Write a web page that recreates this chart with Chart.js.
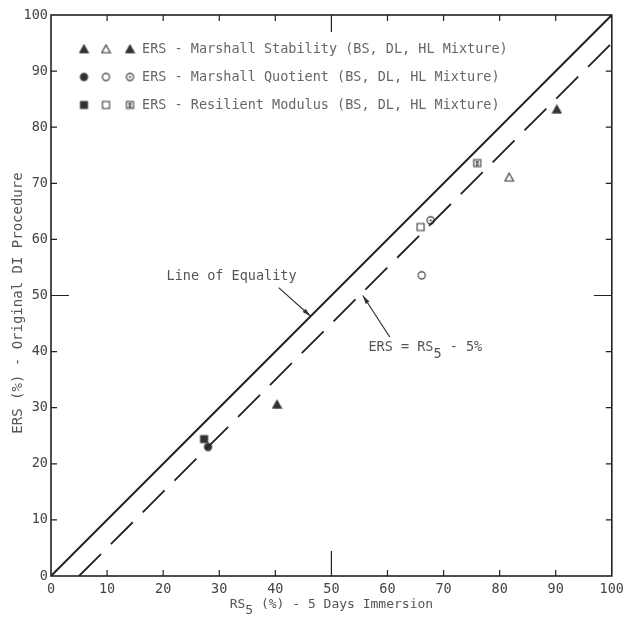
<!DOCTYPE html>
<html>
<head>
<meta charset="utf-8">
<script src="https://cdn.jsdelivr.net/npm/chart.js@4.4.0/dist/chart.umd.min.js"></script>
<style>
  html, body { margin: 0; background: #fff; }
  #wrap { width: 629px; height: 624px; }
</style>
</head>
<body>
<div id="wrap"><canvas id="myChart"></canvas></div>
<script>
// axis ticks
const tickValues = [0, 10, 20, 30, 40, 50, 60, 70, 80, 90, 100];

// reference lines
const equalityLine = [{x: 0, y: 0}, {x: 100, y: 100}];
const offsetLine = [{x: 5, y: 0}, {x: 100, y: 95}];

// ERS vs RS5 : BS mixture (filled), DL (open), HL (marked)
const msBS = [{x: 40.3, y: 30.6}];
const mqBS = [{x: 28.0, y: 23.0}];
const rmBS = [{x: 27.3, y: 24.4}];
const msDL = [{x: 81.7, y: 71.1}];
const mqDL = [{x: 66.1, y: 53.6}];
const rmDL = [{x: 65.9, y: 62.2}];
const msHL = [{x: 90.2, y: 83.2}];
const mqHL = [{x: 67.7, y: 63.4}];
const rmHL = [{x: 76.0, y: 73.6}];

const legendLabels = [
  'ERS - Marshall Stability (BS, DL, HL Mixture)',
  'ERS - Marshall Quotient (BS, DL, HL Mixture)',
  'ERS - Resilient Modulus (BS, DL, HL Mixture)'
];

const FONT = '"DejaVu Sans Mono", monospace';
const TXT = '#555';
const INK = '#222';

// little marker images, used for points and legend
function marker(shape, fill, inner) {
  const c = document.createElement('canvas');
  c.width = 11; c.height = 11;
  const g = c.getContext('2d');
  g.strokeStyle = '#333';
  g.fillStyle = fill ? '#333' : '#fff';
  g.lineWidth = 1.1;
  g.beginPath();
  if (shape === 'tri') { g.moveTo(5.5, 1.5); g.lineTo(9.8, 9.3); g.lineTo(1.2, 9.3); g.closePath(); }
  else if (shape === 'circle') g.arc(5.5, 5.5, 3.6, 0, Math.PI * 2);
  else g.rect(2, 2, 7, 7);
  g.fill(); g.stroke();
  if (inner === 'dot') { g.fillStyle = '#333'; g.beginPath(); g.arc(5.5, 5.5, 1.1, 0, Math.PI * 2); g.fill(); }
  if (inner === 'bar') { g.fillStyle = '#333'; g.fillRect(4, 3.5, 3, 2); g.fillRect(4, 6.5, 3, 1.5); }
  return c;
}

const mk = [
  [marker('tri', true), marker('tri', false), marker('tri', true)],
  [marker('circle', true), marker('circle', false), marker('circle', false, 'dot')],
  [marker('rect', true), marker('rect', false), marker('rect', false, 'bar')]
];

function pts(data, img) {
  return { type: 'scatter', data: data, pointStyle: img, pointRadius: 5, pointHoverRadius: 5 };
}

const annoPlugin = {
  id: 'anno',
  afterDraw(chart) {
    const ctx = chart.ctx;
    const xs = chart.scales.x, ys = chart.scales.y;
    const a = chart.chartArea;
    const X = v => xs.getPixelForValue(v), Y = v => ys.getPixelForValue(v);
    ctx.save();
    // frame
    ctx.strokeStyle = INK;
    ctx.lineWidth = 1.6;
    ctx.strokeRect(a.left, a.top, a.right - a.left, a.bottom - a.top);
    // inward ticks
    ctx.lineWidth = 1.2;
    ctx.beginPath();
    for (let i = 1; i < tickValues.length - 1; i++) {
      const v = tickValues[i];
      const big = v === 50;
      const px = X(v), py = Y(v);
      ctx.moveTo(px, a.bottom); ctx.lineTo(px, a.bottom - (big ? 25 : 6));
      ctx.moveTo(px, a.top); ctx.lineTo(px, a.top + (big ? 17 : 6));
      ctx.moveTo(a.left, py); ctx.lineTo(a.left + (big ? 18 : 6), py);
      ctx.moveTo(a.right, py); ctx.lineTo(a.right - (big ? 18 : 6), py);
    }
    ctx.stroke();

    // legend
    ctx.font = '13.5px ' + FONT;
    ctx.fillStyle = '#666';
    ctx.textBaseline = 'middle';
    const colX = [84, 106, 130];
    for (let r = 0; r < 3; r++) {
      const y = 49 + r * 28;
      for (let c = 0; c < 3; c++) ctx.drawImage(mk[r][c], colX[c] - 5.5, y - 5.5);
      ctx.fillText(legendLabels[r], 142, y);
    }

    // arrows
    function arrow(x0, y0, x1, y1) {
      const p0 = [X(x0), Y(y0)], p1 = [X(x1), Y(y1)];
      ctx.strokeStyle = '#333';
      ctx.lineWidth = 1.2;
      ctx.beginPath(); ctx.moveTo(p0[0], p0[1]); ctx.lineTo(p1[0], p1[1]); ctx.stroke();
      const ang = Math.atan2(p1[1] - p0[1], p1[0] - p0[0]);
      ctx.fillStyle = '#333';
      ctx.beginPath();
      ctx.moveTo(p1[0], p1[1]);
      ctx.lineTo(p1[0] - 9 * Math.cos(ang - 0.25), p1[1] - 9 * Math.sin(ang - 0.25));
      ctx.lineTo(p1[0] - 9 * Math.cos(ang + 0.25), p1[1] - 9 * Math.sin(ang + 0.25));
      ctx.closePath(); ctx.fill();
    }
    arrow(40.6, 51.4, 46.3, 46.3);
    arrow(60.4, 42.6, 55.6, 50.0);

    ctx.fillStyle = TXT;
    ctx.font = '13.5px ' + FONT;
    ctx.textAlign = 'center';
    ctx.fillText('Line of Equality', X(32.2), Y(53.3));
    ctx.textAlign = 'left';
    let tx = X(56.6), ty = Y(40.8);
    ctx.fillText('ERS = RS', tx, ty);
    tx += ctx.measureText('ERS = RS').width;
    ctx.fillText('5', tx, ty + 7);
    tx += ctx.measureText('5').width;
    ctx.fillText(' - 5%', tx, ty);

    // axis titles
    ctx.font = '13px ' + FONT;
    const xt1 = 'RS', xt2 = '5', xt3 = ' (%) - 5 Days Immersion';
    const w = ctx.measureText(xt1 + xt2 + xt3).width;
    let bx = (a.left + a.right) / 2 - w / 2;
    const by = 605;
    ctx.fillText(xt1, bx, by); bx += ctx.measureText(xt1).width;
    ctx.fillText(xt2, bx, by + 6); bx += ctx.measureText(xt2).width;
    ctx.fillText(xt3, bx, by);

    ctx.font = '14px ' + FONT;
    ctx.translate(18, 303);
    ctx.rotate(-Math.PI / 2);
    ctx.textAlign = 'center';
    ctx.fillText('ERS (%) - Original DI Procedure', 0, 0);
    ctx.restore();
  }
};

const ctx = document.getElementById('myChart').getContext('2d');
const myChart = new Chart(ctx, {
  type: 'scatter',
  data: {
    datasets: [
      { type: 'line', data: equalityLine, borderColor: INK, borderWidth: 2, pointRadius: 0, fill: false },
      { type: 'line', data: offsetLine, borderColor: INK, borderWidth: 1.8, borderDash: [31, 14], pointRadius: 0, fill: false },
      pts(msBS, mk[0][0]), pts(msDL, mk[0][1]), pts(msHL, mk[0][2]),
      pts(mqBS, mk[1][0]), pts(mqDL, mk[1][1]), pts(mqHL, mk[1][2]),
      pts(rmBS, mk[2][0]), pts(rmDL, mk[2][1]), pts(rmHL, mk[2][2])
    ]
  },
  options: {
    responsive: true,
    maintainAspectRatio: false,
    animation: false,
    layout: { padding: { left: 0, top: 15, right: 15, bottom: 0 } },
    plugins: { legend: { display: false }, tooltip: { enabled: false } },
    scales: {
      x: {
        type: 'linear', min: 0, max: 100,
        afterBuildTicks: s => { s.ticks = tickValues.map(v => ({value: v})); },
        afterFit: s => { s.height = 48; },
        grid: { display: false, drawTicks: false },
        border: { display: false },
        ticks: { padding: 5, color: '#444', font: { family: FONT, size: 13.5 }, maxRotation: 0 }
      },
      y: {
        type: 'linear', min: 0, max: 100,
        afterBuildTicks: s => { s.ticks = tickValues.map(v => ({value: v})); },
        afterFit: s => { s.width = 51; },
        grid: { display: false, drawTicks: false },
        border: { display: false },
        ticks: { padding: 3, color: '#444', font: { family: FONT, size: 13.5 } }
      }
    }
  },
  plugins: [annoPlugin]
});
</script>
</body>
</html>
